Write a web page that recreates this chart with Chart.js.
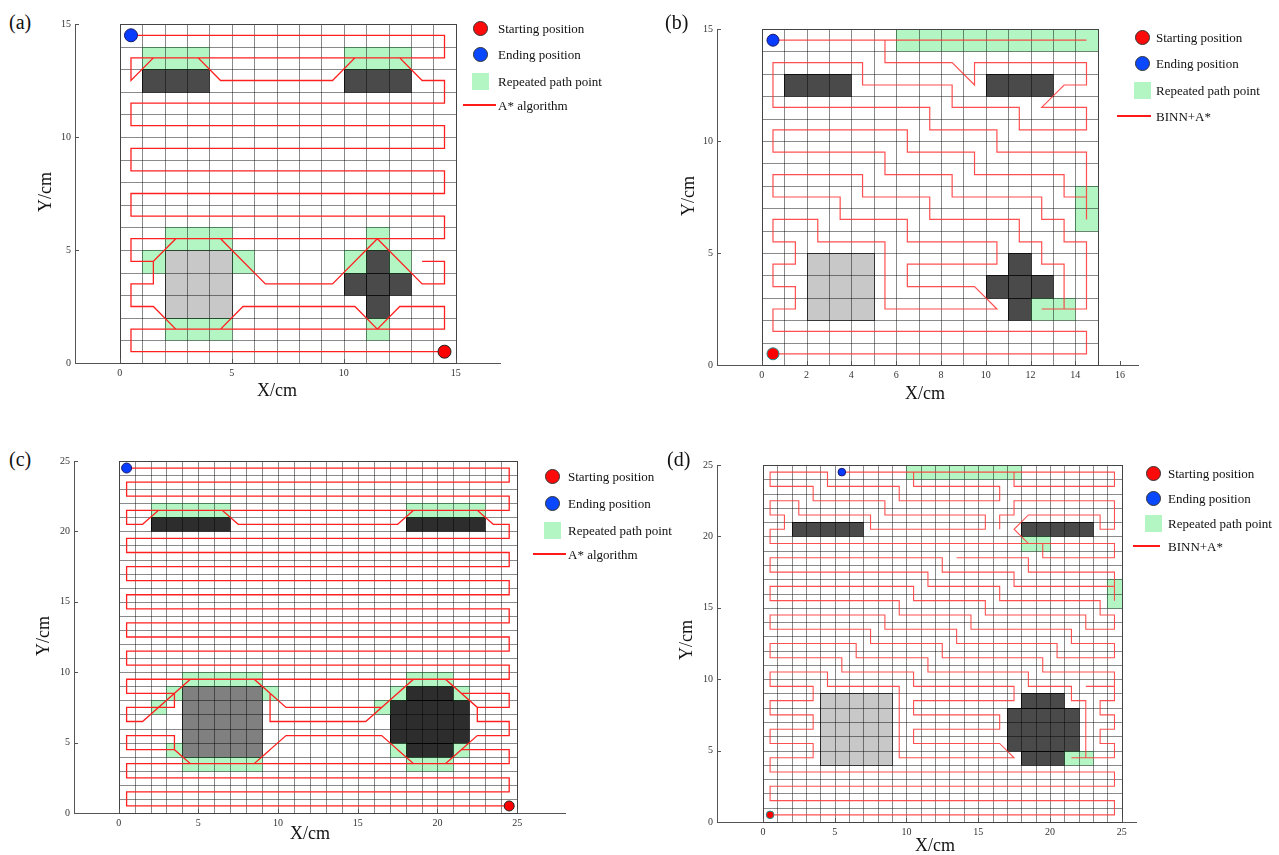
<!DOCTYPE html>
<html>
<head>
<meta charset="utf-8">
<script src="https://cdn.jsdelivr.net/npm/chart.js@4.4.1/dist/chart.umd.min.js"></script>
<style>
  body { margin: 0; width: 1279px; height: 855px; background: #fff; position: relative; overflow: hidden;
         font-family: "Liberation Serif", "Times New Roman", serif; color: #111; }
  canvas { position: absolute; }
  .t { position: absolute; white-space: nowrap; line-height: 1; }
  .lg { position: absolute; white-space: nowrap; font-size: 13px; line-height: 1; transform: translateY(-50%); }
  .mk { position: absolute; box-sizing: border-box; }
</style>
</head>
<body>
<script>
const FONT = '"Liberation Serif", "Times New Roman", serif';

// ---------- (a) A* algorithm, 15 x 15 map ----------
const aTicksX = [0, 5, 10, 15];
const aTicksY = [0, 5, 10, 15];
const aDark = [[1, 12, 4, 13], [10, 12, 13, 13], [11, 2, 12, 5], [10, 3, 13, 4]];
const aLight = [[2, 2, 5, 5]];
const aRepeat = [[1, 13, 4, 14], [10, 13, 13, 14], [2, 5, 5, 6], [2, 1, 5, 2], [1, 4, 2, 5], [5, 4, 6, 5],
                 [11, 5, 12, 6], [10, 4, 11, 5], [12, 4, 13, 5], [11, 1, 12, 2]];
const aStart = [14.5, 0.5];
const aEnd = [0.5, 14.5];
const aPath = [
  [14.5, 0.5], [0.5, 0.5], [0.5, 1.5], [14.5, 1.5], [14.5, 2.5], [12.5, 2.5], [11.5, 1.5], [10.5, 2.5],
  [5.5, 2.5], [4.5, 1.5], [2.5, 1.5], [1.5, 2.5], [0.5, 2.5], [0.5, 3.5], [1.5, 3.5], [1.5, 4.5],
  [2.5, 5.5], [4.5, 5.5], [6.5, 3.5], [9.5, 3.5], [11.5, 5.5], [13.5, 3.5], [14.5, 3.5], [14.5, 4.5],
  [13.5, 4.5], null, [1.5, 4.5], [0.5, 4.5], [0.5, 5.5], [14.5, 5.5], [14.5, 6.5], [0.5, 6.5], [0.5, 7.5],
  [14.5, 7.5], [14.5, 8.5], [0.5, 8.5], [0.5, 9.5], [14.5, 9.5], [14.5, 10.5], [0.5, 10.5], [0.5, 11.5],
  [14.5, 11.5], [14.5, 12.5], [13.5, 12.5], [12.5, 13.5], [10.5, 13.5], [9.5, 12.5], [4.5, 12.5],
  [3.5, 13.5], [1.5, 13.5], [0.5, 12.5], [0.5, 13.5], [14.5, 13.5], [14.5, 14.5], [0.5, 14.5]
];
const aLegend = ['Starting position', 'Ending position', 'Repeated path point', 'A* algorithm'];

// ---------- (b) BINN+A*, 15 x 15 map ----------
const bTicksX = [0, 2, 4, 6, 8, 10, 12, 14, 16];
const bTicksY = [0, 5, 10, 15];
const bDark = [[1, 12, 4, 13], [10, 12, 13, 13], [11, 2, 12, 5], [10, 3, 13, 4]];
const bLight = [[2, 2, 5, 5]];
const bRepeat = [[6, 14, 15, 15], [14, 6, 15, 8], [12, 2, 14, 3]];
const bStart = [0.5, 0.5];
const bEnd = [0.5, 14.5];
const bPath = [
  [0.5, 0.5], [14.5, 0.5], [14.5, 1.5], [0.5, 1.5], [0.5, 2.5], [1.5, 2.5], [1.5, 3.5], [0.5, 3.5],
  [0.5, 4.5], [1.5, 4.5], [1.5, 5.5], [0.5, 5.5], [0.5, 6.5], [2.5, 6.5], [2.5, 5.5], [5.5, 5.5],
  [5.5, 2.5], [10.5, 2.5], [9.5, 3.5], [6.5, 3.5], [6.5, 4.5], [10.5, 4.5], [10.5, 5.5], [6.5, 5.5],
  [6.5, 6.5], [3.5, 6.5], [3.5, 7.5], [0.5, 7.5], [0.5, 8.5], [4.5, 8.5], [4.5, 7.5], [7.5, 7.5],
  [7.5, 6.5], [11.5, 6.5], [11.5, 5.5], [12.5, 5.5], [12.5, 4.5], [13.5, 4.5], [13.5, 2.5], [12.5, 2.5],
  [14.5, 2.5], [14.5, 5.5], [13.5, 5.5], [13.5, 6.5], [12.5, 6.5], [12.5, 7.5], [8.5, 7.5], [8.5, 8.5],
  [5.5, 8.5], [5.5, 9.5], [0.5, 9.5], [0.5, 10.5], [6.5, 10.5], [6.5, 9.5], [9.5, 9.5], [9.5, 8.5],
  [13.5, 8.5], [13.5, 7.5], [14.5, 7.5], [14.5, 6.5], [14.5, 9.5], [10.5, 9.5], [10.5, 10.5], [7.5, 10.5],
  [7.5, 11.5], [0.5, 11.5], [0.5, 13.5], [4.5, 13.5], [4.5, 12.5], [8.5, 12.5], [8.5, 11.5], [11.5, 11.5],
  [11.5, 10.5], [14.5, 10.5], [14.5, 11.5], [12.5, 11.5], [13.5, 12.5], [14.5, 12.5], [14.5, 13.5],
  [9.5, 13.5], [9.5, 12.5], [8.5, 13.5], [5.5, 13.5], [5.5, 14.5], [14.5, 14.5], [0.5, 14.5]
];
const bLegend = ['Starting position', 'Ending position', 'Repeated path point', 'BINN+A*'];

// ---------- (c) A* algorithm, 25 x 25 map ----------
const cTicksX = [0, 5, 10, 15, 20, 25];
const cTicksY = [0, 5, 10, 15, 20, 25];
const cDark = [[2, 20, 7, 21], [18, 20, 23, 21], [18, 8, 21, 9], [17, 5, 22, 8], [18, 4, 21, 5]];
const cLight = [[4, 4, 9, 9]];
const cRepeat = [[2, 21, 7, 22], [18, 21, 23, 22], [4, 9, 9, 10], [3, 8, 4, 9], [2, 7, 3, 8], [9, 8, 10, 9],
                 [3, 4, 4, 5], [4, 3, 9, 4], [18, 9, 21, 10], [17, 8, 18, 9], [21, 8, 22, 9], [16, 7, 17, 8],
                 [17, 4, 18, 5], [21, 4, 22, 5], [18, 3, 21, 4]];
const cStart = [24.5, 0.5];
const cEnd = [0.5, 24.5];
const cPath = [
  [24.5, 0.5], [0.5, 0.5], [0.5, 1.5], [24.5, 1.5], [24.5, 2.5], [0.5, 2.5], [0.5, 3.5], [24.5, 3.5],
  [24.5, 4.5], [21.5, 4.5], [20.5, 3.5], [18.5, 3.5], [17.5, 4.5], null, [9.5, 4.5], [8.5, 3.5], [4.5, 3.5],
  [3.5, 4.5], [0.5, 4.5], [0.5, 5.5], [3.5, 5.5], [3.5, 4.5], [4.5, 3.5], [8.5, 3.5], [10.5, 5.5],
  [16.5, 5.5], [18.5, 3.5], [20.5, 3.5], [22.5, 5.5], [24.5, 5.5], [24.5, 6.5], [22.5, 6.5], [22.5, 7.5],
  [20.5, 9.5], [18.5, 9.5], [15.5, 6.5], [9.5, 6.5], [9.5, 8.5], [8.5, 9.5], [4.5, 9.5], [1.5, 6.5],
  [0.5, 6.5], [0.5, 7.5], [3.5, 7.5], [3.5, 8.5], [4.5, 9.5], [8.5, 9.5], [10.5, 7.5], [16.5, 7.5],
  [18.5, 9.5], [20.5, 9.5], [22.5, 7.5], [24.5, 7.5], [24.5, 8.5], [21.5, 8.5], [20.5, 9.5], [18.5, 9.5],
  [17.5, 8.5], null, [9.5, 8.5], [8.5, 9.5], [4.5, 9.5], [3.5, 8.5], [0.5, 8.5], [0.5, 9.5], [24.5, 9.5],
  [24.5, 10.5], [0.5, 10.5], [0.5, 11.5], [24.5, 11.5], [24.5, 12.5], [0.5, 12.5], [0.5, 13.5],
  [24.5, 13.5], [24.5, 14.5], [0.5, 14.5], [0.5, 15.5], [24.5, 15.5], [24.5, 16.5], [0.5, 16.5],
  [0.5, 17.5], [24.5, 17.5], [24.5, 18.5], [0.5, 18.5], [0.5, 19.5], [24.5, 19.5], [24.5, 20.5],
  [23.5, 20.5], [22.5, 21.5], [18.5, 21.5], [17.5, 20.5], [7.5, 20.5], [6.5, 21.5], [2.5, 21.5],
  [1.5, 20.5], [0.5, 20.5], [0.5, 21.5], [24.5, 21.5], [24.5, 22.5], [0.5, 22.5], [0.5, 23.5],
  [24.5, 23.5], [24.5, 24.5], [0.5, 24.5]
];
const cLegend = ['Starting position', 'Ending position', 'Repeated path point', 'A* algorithm'];

// ---------- (d) BINN+A*, 25 x 25 map ----------
const dTicksX = [0, 5, 10, 15, 20, 25];
const dTicksY = [0, 5, 10, 15, 20, 25];
const dDark = [[2, 20, 7, 21], [18, 20, 23, 21], [18, 8, 21, 9], [17, 5, 22, 8], [18, 4, 21, 5]];
const dLight = [[4, 4, 9, 9]];
const dRepeat = [[10, 24, 18, 25], [18, 19, 20, 20], [24, 15, 25, 17], [21, 4, 23, 5]];
const dStart = [0.5, 0.5];
const dEnd = [5.5, 24.5];
const dPath = [
  [0.5, 0.5], [24.5, 0.5], [24.5, 1.5], [0.5, 1.5], [0.5, 2.5], [24.5, 2.5], [24.5, 3.5], [0.5, 3.5],
  [0.5, 4.5], [3.5, 4.5], [3.5, 5.5], [0.5, 5.5], [0.5, 6.5], [3.5, 6.5], [3.5, 7.5], [0.5, 7.5],
  [0.5, 8.5], [3.5, 8.5], [3.5, 9.5], [0.5, 9.5], [0.5, 10.5], [4.5, 10.5], [4.5, 9.5], [9.5, 9.5],
  [9.5, 4.5], [17.5, 4.5], [16.5, 5.5], [10.5, 5.5], [10.5, 6.5], [16.5, 6.5], [16.5, 7.5], [10.5, 7.5],
  [10.5, 8.5], [17.5, 8.5], [17.5, 9.5], [10.5, 9.5], [10.5, 10.5], [5.5, 10.5], [5.5, 11.5], [0.5, 11.5],
  [0.5, 12.5], [6.5, 12.5], [6.5, 11.5], [11.5, 11.5], [11.5, 10.5], [18.5, 10.5], [18.5, 9.5],
  [21.5, 9.5], [21.5, 8.5], [22.5, 8.5], [22.5, 4.5], [21.5, 4.5], [24.5, 4.5], [24.5, 5.5], [23.5, 5.5],
  [23.5, 6.5], [24.5, 6.5], [24.5, 7.5], [23.5, 7.5], [23.5, 8.5], [24.5, 8.5], [24.5, 9.5], [22.5, 9.5], null,
  [24.5, 9.5], [24.5, 10.5], [19.5, 10.5], [19.5, 11.5], [12.5, 11.5], [12.5, 12.5], [7.5, 12.5],
  [7.5, 13.5], [0.5, 13.5], [0.5, 14.5], [8.5, 14.5], [8.5, 13.5], [13.5, 13.5], [13.5, 12.5],
  [20.5, 12.5], [20.5, 11.5], [24.5, 11.5], [24.5, 12.5], [21.5, 12.5], [21.5, 13.5], [14.5, 13.5],
  [14.5, 14.5], [9.5, 14.5], [9.5, 15.5], [0.5, 15.5], [0.5, 16.5], [10.5, 16.5], [10.5, 15.5],
  [15.5, 15.5], [15.5, 14.5], [22.5, 14.5], [22.5, 13.5], [24.5, 13.5], [24.5, 14.5], [23.5, 14.5],
  [23.5, 15.5], [16.5, 15.5], [16.5, 16.5], [11.5, 16.5], [11.5, 17.5], [0.5, 17.5], [0.5, 18.5],
  [12.5, 18.5], [12.5, 17.5], [17.5, 17.5], [17.5, 16.5], [24.5, 16.5], [24.5, 15.5], [24.5, 17.5],
  [18.5, 17.5], [18.5, 18.5], [13.5, 18.5], null,
  [16.5, 20.5], [16.5, 21.5], [17.5, 21.5], [17.5, 22.5], [24.5, 22.5], [24.5, 20.5], [23.5, 20.5],
  [23.5, 21.5], [18.5, 21.5], [17.5, 20.5], [18.5, 19.5], [19.5, 19.5], [19.5, 18.5], [24.5, 18.5],
  [24.5, 19.5], [0.5, 19.5], [0.5, 20.5], [1.5, 20.5], [1.5, 21.5], [0.5, 21.5], [0.5, 22.5], [2.5, 22.5],
  [2.5, 21.5], [7.5, 21.5], [7.5, 20.5], [15.5, 20.5], [15.5, 21.5], [8.5, 21.5], [8.5, 22.5], [3.5, 22.5],
  [3.5, 23.5], [0.5, 23.5], [0.5, 24.5], [4.5, 24.5], [4.5, 23.5], [9.5, 23.5], [9.5, 22.5], [16.5, 22.5],
  [16.5, 23.5], [10.5, 23.5], [10.5, 24.5], [17.5, 24.5], [17.5, 23.5], [24.5, 23.5], [24.5, 24.5],
  [5.5, 24.5]
];
const dLegend = ['Starting position', 'Ending position', 'Repeated path point', 'BINN+A*'];

// ---------- layout of the four panels (pixels on the page) ----------
const panels = [
  { n: 15, x0: 120, ux: 22.47, yTop: 21.7, yBot: 362.7, xMin: -2, xMax: 17,
    ticksX: aTicksX, ticksY: aTicksY, dark: aDark, light: aLight, repeat: aRepeat, path: aPath,
    start: aStart, end: aEnd, darkColor: '#4a4a4a', lightColor: '#c8c8c8', markR: 6.5, startEdge: '#222',
    lineColor: '#ff2020', lineW: 1.3,
    tag: '(a)', tagPos: [9, 12], xt: [277, 390], yt: [45, 192],
    legend: aLegend, lgX: 480, lgY: [28, 54, 81, 105], lgT: 498, lgLine: [463, 496] },
  { n: 15, x0: 761.5, ux: 22.45, yTop: 26.7, yBot: 365, xMin: -2, xMax: 16.8,
    ticksX: bTicksX, ticksY: bTicksY, dark: bDark, light: bLight, repeat: bRepeat, path: bPath,
    start: bStart, end: bEnd, darkColor: '#4a4a4a', lightColor: '#c8c8c8', markR: 6, startEdge: '#1c8c8c',
    lineColor: 'rgba(255,50,50,0.85)', lineW: 1.2,
    tag: '(b)', tagPos: [665, 12], xt: [925, 393], yt: [688, 196],
    legend: bLegend, lgX: 1142, lgY: [37, 63, 90, 116], lgT: 1156, lgLine: [1117, 1151] },
  { n: 25, x0: 118.3, ux: 15.93, yTop: 459.3, yBot: 813.3, xMin: -2.8, xMax: 28,
    ticksX: cTicksX, ticksY: cTicksY, dark: cDark, light: cLight, repeat: cRepeat, path: cPath,
    start: cStart, end: cEnd, darkColor: '#2d2d2d', lightColor: '#808080', markR: 5, startEdge: '#222',
    lineColor: '#ff2020', lineW: 1.3,
    tag: '(c)', tagPos: [9, 449], xt: [310, 833], yt: [43, 636],
    legend: cLegend, lgX: 552, lgY: [476, 503, 530, 554], lgT: 568, lgLine: [533, 566] },
  { n: 25, x0: 763.3, ux: 14.35, yTop: 463.3, yBot: 822.5, xMin: -3.2, xMax: 26,
    ticksX: dTicksX, ticksY: dTicksY, dark: dDark, light: dLight, repeat: dRepeat, path: dPath,
    start: dStart, end: dEnd, darkColor: '#4a4a4a', lightColor: '#c8c8c8', markR: 3.8, startEdge: '#1c8c8c',
    lineColor: 'rgba(255,50,50,0.85)', lineW: 1.1,
    tag: '(d)', tagPos: [667, 449], xt: [935, 845], yt: [686, 640],
    legend: dLegend, lgX: 1153, lgY: [473, 498, 523, 546], lgT: 1168, lgLine: [1133, 1160] }
];

function pts(list) {
  return list.map(p => p ? { x: p[0], y: p[1] } : { x: null, y: null });
}

// cells, grid lines and inward tick marks, all placed through the chart scales
const cellsPlugin = {
  id: 'cells',
  beforeDatasetsDraw(chart, args, o) {
    const ctx = chart.ctx, xs = chart.scales.x, ys = chart.scales.y;
    const X = v => Math.round(xs.getPixelForValue(v));
    const Y = v => Math.round(ys.getPixelForValue(v));
    const box = r => [X(r[0]), Y(r[3]), X(r[2]) - X(r[0]), Y(r[1]) - Y(r[3])];
    ctx.save();
    ctx.fillStyle = '#b4f5c4';
    o.repeat.forEach(r => ctx.fillRect(...box(r)));
    ctx.fillStyle = o.lightColor;
    o.light.forEach(r => ctx.fillRect(...box(r)));
    ctx.fillStyle = o.darkColor;
    o.dark.forEach(r => ctx.fillRect(...box(r)));

    ctx.lineWidth = 1;
    ctx.strokeStyle = 'rgba(0,0,0,0.46)';
    ctx.beginPath();
    for (let i = 1; i < o.n; i++) {
      ctx.moveTo(X(i) + 0.5, Y(0)); ctx.lineTo(X(i) + 0.5, Y(o.n));
      ctx.moveTo(X(0), Y(i) + 0.5); ctx.lineTo(X(o.n), Y(i) + 0.5);
    }
    ctx.stroke();

    ctx.strokeStyle = 'rgba(0,0,0,0.6)';
    [...o.dark, ...o.light].forEach(r => {
      const b = box(r);
      ctx.strokeRect(b[0] + 0.5, b[1] + 0.5, b[2], b[3]);
    });
    ctx.strokeStyle = 'rgba(40,120,60,0.35)';
    o.repeat.forEach(r => {
      const b = box(r);
      ctx.strokeRect(b[0] + 0.5, b[1] + 0.5, b[2], b[3]);
    });

    ctx.strokeStyle = '#444';
    ctx.strokeRect(X(0) + 0.5, Y(o.n) + 0.5, X(o.n) - X(0), Y(0) - Y(o.n));
    ctx.restore();
  },
  afterDraw(chart, args, o) {
    const ctx = chart.ctx, xs = chart.scales.x, ys = chart.scales.y;
    const a = chart.chartArea;
    ctx.save();
    ctx.strokeStyle = '#555';
    ctx.lineWidth = 1;
    ctx.beginPath();
    o.ticksX.forEach(v => {
      const px = Math.round(xs.getPixelForValue(v)) + 0.5;
      ctx.moveTo(px, a.bottom); ctx.lineTo(px, a.bottom - 4);
    });
    o.ticksY.forEach(v => {
      const py = Math.round(ys.getPixelForValue(v)) + 0.5;
      ctx.moveTo(a.left, py); ctx.lineTo(a.left + 4, py);
    });
    ctx.stroke();
    ctx.restore();
  }
};

function addText(txt, x, y, size, cls, extra) {
  const d = document.createElement('div');
  d.className = cls;
  d.textContent = txt;
  d.style.left = x + 'px';
  d.style.top = y + 'px';
  d.style.fontSize = size + 'px';
  if (extra) Object.assign(d.style, extra);
  document.body.appendChild(d);
  return d;
}

function addMark(style) {
  const d = document.createElement('div');
  d.className = 'mk';
  Object.assign(d.style, style);
  document.body.appendChild(d);
}

function drawPanel(p) {
  const YW = 34, PT = 8, PR = 6, XH = 22;
  const axisX = p.x0 + p.xMin * p.ux;
  const xEnd = p.x0 + p.xMax * p.ux;
  const cv = document.createElement('canvas');
  const w = Math.round(xEnd - axisX + YW + PR);
  const h = Math.round(p.yBot - p.yTop + PT + XH);
  cv.width = w; cv.height = h;
  cv.style.width = w + 'px'; cv.style.height = h + 'px';
  cv.style.left = Math.round(axisX - YW) + 'px';
  cv.style.top = Math.round(p.yTop - PT) + 'px';
  document.body.appendChild(cv);

  const tickFont = { family: FONT, size: 10 };
  new Chart(cv, {
    type: 'line',
    data: {
      datasets: [
        { data: pts([p.start]), showLine: false, pointRadius: p.markR, backgroundColor: '#ff0000',
          borderColor: p.startEdge, borderWidth: 1 },
        { data: pts([p.end]), showLine: false, pointRadius: p.markR, backgroundColor: '#0a3cff',
          borderColor: '#1a1a6a', borderWidth: 1 },
        { data: pts(p.path), borderColor: p.lineColor, borderWidth: p.lineW, pointRadius: 0,
          fill: false, tension: 0, spanGaps: false }
      ]
    },
    options: {
      responsive: false, animation: false, devicePixelRatio: 1, events: [],
      layout: { padding: { top: PT, right: PR, left: 0, bottom: 0 } },
      plugins: {
        legend: { display: false }, tooltip: { enabled: false },
        cells: { n: p.n, dark: p.dark, light: p.light, repeat: p.repeat, darkColor: p.darkColor,
                 lightColor: p.lightColor, ticksX: p.ticksX, ticksY: p.ticksY }
      },
      scales: {
        x: {
          type: 'linear', min: p.xMin, max: p.xMax,
          grid: { display: true, drawOnChartArea: false, drawTicks: false },
          border: { display: true, color: '#555', width: 1 },
          ticks: { font: tickFont, color: '#333', padding: 4, maxRotation: 0, autoSkip: false },
          afterBuildTicks: s => { s.ticks = p.ticksX.map(v => ({ value: v })); },
          afterFit: s => { s.height = XH; }
        },
        y: {
          type: 'linear', min: 0, max: p.n,
          grid: { display: true, drawOnChartArea: false, drawTicks: false },
          border: { display: true, color: '#555', width: 1 },
          ticks: { font: tickFont, color: '#333', padding: 4, autoSkip: false },
          afterBuildTicks: s => { s.ticks = p.ticksY.map(v => ({ value: v })); },
          afterFit: s => { s.width = YW; }
        }
      }
    },
    plugins: [cellsPlugin]
  });

  // panel letter and axis titles
  addText(p.tag, p.tagPos[0], p.tagPos[1], 20, 't');
  addText('X/cm', p.xt[0], p.xt[1], 18, 't', { transform: 'translate(-50%,-50%)' });
  addText('Y/cm', p.yt[0], p.yt[1], 18, 't', { transform: 'translate(-50%,-50%) rotate(-90deg)' });

  // legend
  const r = 7.5;
  addMark({ left: (p.lgX - r) + 'px', top: (p.lgY[0] - r) + 'px', width: 2 * r + 'px', height: 2 * r + 'px',
            borderRadius: '50%', background: '#ff0a0a', border: '1px solid #333' });
  addMark({ left: (p.lgX - r) + 'px', top: (p.lgY[1] - r) + 'px', width: 2 * r + 'px', height: 2 * r + 'px',
            borderRadius: '50%', background: '#0a48ff', border: '1px solid #333' });
  addMark({ left: (p.lgX - 8) + 'px', top: (p.lgY[2] - 8) + 'px', width: '17px', height: '17px',
            background: '#b4f5c4' });
  addMark({ left: p.lgLine[0] + 'px', top: (p.lgY[3] - 1) + 'px', width: (p.lgLine[1] - p.lgLine[0]) + 'px',
            height: '2px', background: '#ff1a1a' });
  p.legend.forEach((txt, i) => addText(txt, p.lgT, p.lgY[i], 13, 'lg'));
}

panels.forEach(drawPanel);
</script>
</body>
</html>
